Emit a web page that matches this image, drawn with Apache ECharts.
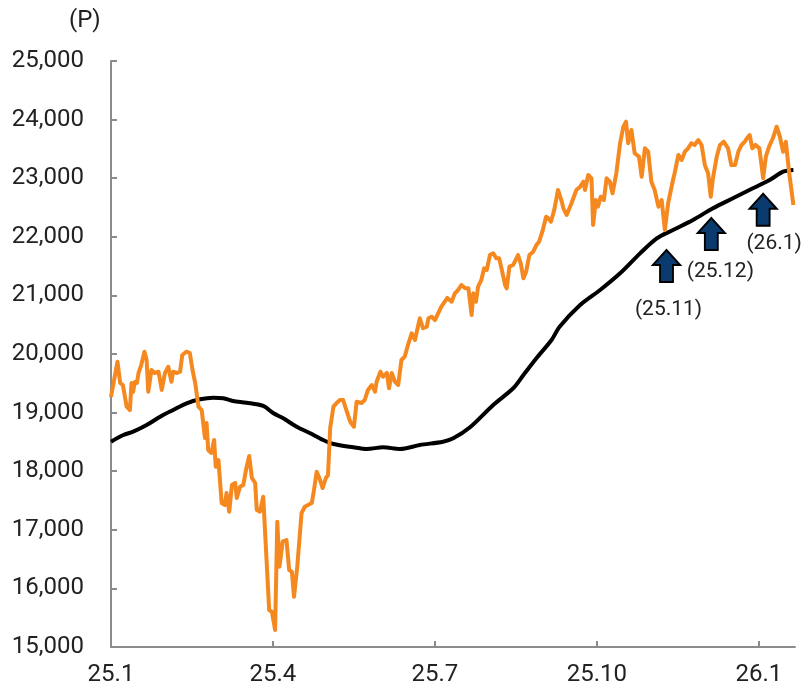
<!DOCTYPE html>
<html>
<head>
<meta charset="utf-8">
<script src="https://cdn.jsdelivr.net/npm/echarts@6/dist/echarts.min.js"></script>
<style>
  html, body { margin: 0; padding: 0; background: #fff; }
  #chart { width: 803px; height: 687px; }
</style>
</head>
<body>
<div id="chart"></div>
<script>
// x positions are months counted from 25.1 (0 = Jan 2025)
const xTickPos = [0, 3, 6, 9, 12]
const xTickLabels = ['25.1', '25.4', '25.7', '25.10', '26.1']

// daily index (orange)
const priceX = [
  0, 0.12, 0.17, 0.22, 0.29, 0.35, 0.38, 0.41, 0.44, 0.48, 0.51, 0.56, 0.62, 0.66, 0.69, 0.75,
  0.81, 0.88, 0.94, 1.00, 1.06, 1.12, 1.15, 1.22, 1.28, 1.32, 1.40, 1.46, 1.51, 1.56, 1.62, 1.68,
  1.71, 1.74, 1.77, 1.80, 1.86, 1.91, 1.94, 1.99, 2.05, 2.11, 2.14, 2.19, 2.24, 2.30, 2.33, 2.39,
  2.45, 2.50, 2.56, 2.61, 2.67, 2.70, 2.76, 2.82, 2.85, 2.93, 2.98, 3.04, 3.08, 3.12, 3.18, 3.25,
  3.30, 3.35, 3.39, 3.45, 3.53, 3.59, 3.65, 3.72, 3.76, 3.81, 3.86, 3.92, 3.98, 4.02, 4.06, 4.12,
  4.18, 4.24, 4.30, 4.36, 4.43, 4.46, 4.50, 4.55, 4.64, 4.70, 4.76, 4.83, 4.89, 4.92, 4.99, 5.04,
  5.11, 5.15, 5.20, 5.26, 5.32, 5.38, 5.44, 5.51, 5.57, 5.63, 5.72, 5.78, 5.85, 5.88, 5.94, 6.00,
  6.06, 6.12, 6.23, 6.31, 6.37, 6.43, 6.49, 6.56, 6.62, 6.68, 6.71, 6.76, 6.80, 6.86, 6.91, 6.96,
  7.02, 7.08, 7.14, 7.19, 7.24, 7.30, 7.33, 7.38, 7.45, 7.54, 7.59, 7.64, 7.69, 7.75, 7.82, 7.88,
  7.93, 7.99, 8.06, 8.10, 8.15, 8.21, 8.28, 8.35, 8.38, 8.44, 8.53, 8.62, 8.69, 8.75, 8.78, 8.84,
  8.90, 8.93, 8.98, 9.02, 9.07, 9.13, 9.18, 9.24, 9.29, 9.36, 9.43, 9.49, 9.54, 9.58, 9.64, 9.70,
  9.78, 9.83, 9.89, 9.95, 10.01, 10.07, 10.14, 10.20, 10.26, 10.32, 10.41, 10.44, 10.51, 10.57, 10.63, 10.69,
  10.75, 10.81, 10.88, 10.94, 11.00, 11.06, 11.11, 11.15, 11.22, 11.28, 11.35, 11.43, 11.49, 11.56, 11.62, 11.68,
  11.74, 11.78, 11.83, 11.88, 11.94, 12.01, 12.08, 12.13, 12.19, 12.26, 12.33, 12.39, 12.45, 12.50, 12.56, 12.64
]
const price = [
  19266, 19869, 19505, 19471, 19101, 19044, 19505, 19351, 19522, 19505, 19676, 19812, 20039, 19898, 19357, 19727,
  19676, 19698, 19386, 19676, 19783, 19527, 19698, 19676, 19698, 19983, 20039, 20017, 19727, 19505, 19101, 19044,
  19044, 18566, 18822, 18362, 18311, 18532, 18077, 18191, 17457, 17423, 17628, 17309, 17764, 17799, 17543, 17735,
  17764, 18020, 18259, 17884, 17799, 17338, 17309, 17565, 17594, 15631, 15602, 15290, 17138, 16370, 16797, 16826,
  16314, 16285, 15858, 16370, 17287, 17394, 17423, 17457, 17679, 17991, 17884, 17713, 17884, 17935, 18737, 19101,
  19164, 19215, 19215, 19044, 18845, 18874, 18759, 19186, 19164, 19215, 19386, 19471, 19357, 19527, 19698, 19613,
  19676, 19415, 19676, 19527, 19471, 19898, 19954, 20183, 20353, 20239, 20609, 20439, 20466, 20609, 20637, 20580,
  20694, 20807, 20956, 20892, 21036, 21092, 21177, 21121, 21121, 20665, 21036, 20892, 21148, 21263, 21462, 21433,
  21689, 21718, 21633, 21633, 21433, 21177, 21121, 21490, 21519, 21689, 21548, 21292, 21404, 21689, 21746, 21860,
  21916, 22087, 22343, 22316, 22258, 22457, 22799, 22599, 22486, 22372, 22572, 22799, 22855, 22940, 22799, 23055,
  22998, 22201, 22628, 22514, 22684, 22628, 22998, 22940, 22742, 23084, 23596, 23879, 23964, 23596, 23823, 23425,
  23367, 23026, 23510, 23452, 22940, 22799, 22514, 22628, 22116, 22572, 22969, 23084, 23396, 23311, 23452, 23510,
  23596, 23567, 23652, 23567, 23225, 23084, 22684, 22998, 23367, 23567, 23623, 23510, 23225, 23225, 23452, 23567,
  23623, 23681, 23737, 23510, 23567, 23510, 22998, 23367, 23538, 23681, 23879, 23708, 23452, 23623, 23111, 22543
]

// moving average (black)
const maX = [
  0, 0.23, 0.41, 0.66, 0.91, 1.15, 1.40, 1.65, 1.89, 2.08, 2.26, 2.51, 2.82, 3.01, 3.19, 3.44,
  3.69, 3.93, 4.12, 4.49, 4.74, 5.04, 5.35, 5.72, 6.15, 6.34, 6.65, 7.08, 7.45, 7.64, 7.88, 8.16,
  8.31, 8.69, 9.06, 9.43, 9.80, 10.11, 10.41, 10.78, 11.15, 11.52, 11.89, 12.20, 12.45, 12.64
]
const ma = [
  18503, 18618, 18674, 18788, 18930, 19044, 19159, 19227, 19254, 19244, 19198, 19169, 19113, 18988, 18903, 18759,
  18647, 18532, 18464, 18408, 18379, 18408, 18379, 18447, 18503, 18561, 18749, 19130, 19415, 19642, 19927, 20239,
  20466, 20836, 21092, 21377, 21718, 21974, 22116, 22287, 22486, 22657, 22828, 22969, 23111, 23140
]

// arrows marking MA touches
const arrowNames = ['(25.11)', '(25.12)', '(26.1)']
const arrowX = [10.29, 11.12, 12.08]
const arrowY = [21502, 22048, 22462]

const font = 'Roboto, "Noto Sans", sans-serif'
const arrowLabel = [
  { distance: 16, offset: [2, 0] },
  { distance: 10, offset: [9, 0] },
  { distance: 6, offset: [11, 0] }
]

const chart = echarts.init(document.getElementById('chart'))
const option = {
  animation: false,
  title: {
    text: '(P)',
    left: 69,
    top: 9,
    padding: 0,
    textStyle: { fontFamily: font, fontSize: 24, fontWeight: 'normal', color: '#222', lineHeight: 24 }
  },
  grid: { left: 111, right: 8, top: 61, bottom: 40 },
  xAxis: {
    type: 'value',
    min: 0,
    max: 12.67,
    axisLine: { lineStyle: { color: '#8c8c8c', width: 2 } },
    axisTick: { inside: true, length: 6, customValues: xTickPos, lineStyle: { color: '#8c8c8c', width: 2 } },
    axisLabel: {
      customValues: xTickPos,
      margin: 16,
      fontFamily: font,
      fontSize: 24,
      color: '#222',
      formatter: (v) => xTickLabels[xTickPos.indexOf(Math.round(v))] || ''
    },
    splitLine: { show: false }
  },
  yAxis: {
    type: 'value',
    min: 15000,
    max: 25000,
    interval: 1000,
    axisLine: { show: true, lineStyle: { color: '#8c8c8c', width: 2 } },
    axisTick: { show: true, inside: true, length: 6, lineStyle: { color: '#8c8c8c', width: 2 } },
    axisLabel: {
      margin: 27,
      fontFamily: font,
      fontSize: 24,
      color: '#222',
      formatter: (v) => v.toLocaleString('en-US')
    },
    splitLine: { show: false }
  },
  series: [
    {
      name: 'MA',
      type: 'line',
      data: maX.map((x, i) => [x, ma[i]]),
      smooth: 0.3,
      showSymbol: false,
      lineStyle: { color: '#000', width: 4 },
      z: 2
    },
    {
      name: 'Index',
      type: 'line',
      data: priceX.map((x, i) => [x, price[i]]),
      showSymbol: false,
      lineStyle: { color: '#F5881F', width: 4, join: 'round' },
      z: 3,
      markPoint: {
        symbol: 'path://M50,0 L100,47 L74,47 L74,100 L26,100 L26,47 L0,47 Z',
        symbolSize: [27, 32],
        itemStyle: { color: '#0A3A6E', borderColor: '#000', borderWidth: 2 },
        data: arrowNames.map((n, i) => ({
          name: n,
          coord: [arrowX[i], arrowY[i]],
          label: {
            show: true,
            position: 'bottom',
            distance: arrowLabel[i].distance,
            offset: arrowLabel[i].offset,
            formatter: n,
            fontFamily: font,
            fontSize: 21,
            color: '#222'
          }
        }))
      }
    }
  ]
}
chart.setOption(option)
</script>
</body>
</html>
